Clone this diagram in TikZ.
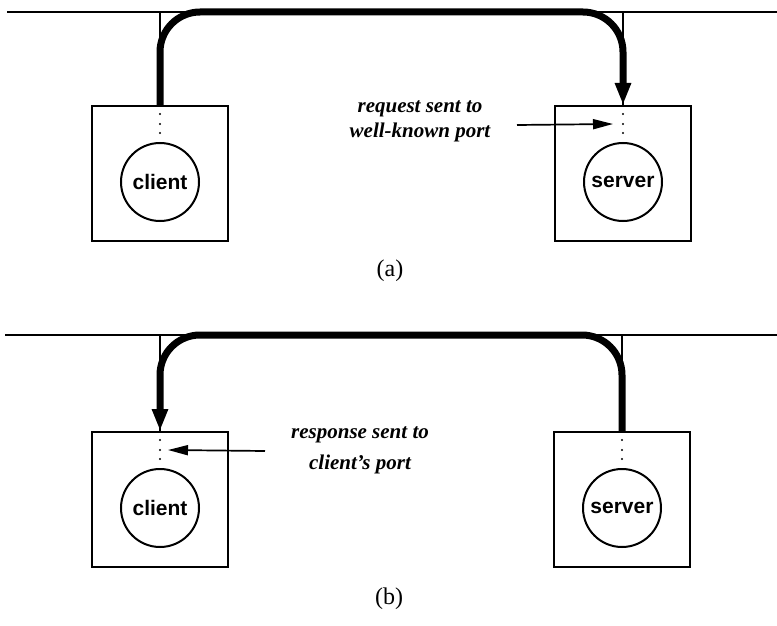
\documentclass[tikz,border=0pt]{standalone}
\usepackage{fontspec}
\setmainfont{Liberation Serif}
\setsansfont{Liberation Sans}
\usetikzlibrary{arrows.meta,calc}
\tikzset{
  bus/.style={line width=1.2pt},
  drop/.style={line width=.7pt},
  hostbox/.style={draw,line width=1pt,minimum width=68pt,minimum height=67.5pt,inner sep=0pt},
  proc/.style={draw,circle,line width=1pt,minimum size=39pt,inner sep=0pt,font=\sffamily\bfseries\fontsize{10.5}{12}\selectfont},
  flow/.style={line width=3.5pt,rounded corners=20pt,-{Triangle[length=11pt,width=7.5pt]}},
  hint/.style={line width=.85pt,-{Triangle[length=10pt,width=5pt]}},
  note/.style={font=\bfseries\itshape\fontsize{10.5}{12.6}\selectfont,align=center},
  subcap/.style={font=\fontsize{12}{14}\selectfont}
}

\begin{document}
\begin{tikzpicture}[x=.5pt,y=-.5pt]
\useasboundingbox (0,0) rectangle (777,626);
% (a) request to the server
\coordinate (busAl) at (7,12);\coordinate (busAr) at (777,12);
\draw[bus] (busAl)--(busAr);
\node[hostbox] (boxCA) at (160,173.5){};
\node[hostbox] (boxSA) at (623,173.5){};
\node[proc] (cliA) at (160,182){client};
\node[proc] (srvA) at (623,182){server};
\draw[drop] (boxCA.north)--(boxCA.north |- busAl);\draw[drop] (boxSA.north)--(boxSA.north |- busAl);
\draw[flow] (boxCA.north)--(boxCA.north |- busAl)--(boxSA.north |- busAl)--(boxSA.north);
\coordinate (portSA) at ($(boxSA.north)+(-10,19)$);\coordinate (fromA) at (517,125);
\draw[hint] (fromA)--(portSA);
\node[note] (reqA) at (420,121){request sent to\\well-known port};
\node[subcap] (capA) at (390,271){(a)};
% (b) response to the client
\coordinate (busBl) at (5,335);\coordinate (busBr) at (777,335);
\draw[bus] (busBl)--(busBr);
\node[hostbox] (boxCB) at (160,499.5){};
\node[hostbox] (boxSB) at (622,499.5){};
\node[proc] (cliB) at (160,508){client};
\node[proc] (srvB) at (622,508){server};
\draw[drop] (boxCB.north)--(boxCB.north |- busBl);\draw[drop] (boxSB.north)--(boxSB.north |- busBl);
\draw[flow] (boxSB.north)--(boxSB.north |- busBl)--(boxCB.north |- busBl)--(boxCB.north);
\coordinate (portCB) at ($(boxCB.north)+(8,19)$);\coordinate (fromB) at (265,451);
\draw[hint] (fromB)--(portCB);
\node[note] (resB) at (360,450){response sent to\\[2.9pt]client's port};
\node[subcap] (capB) at (389,599){(b)};
% port dots
\foreach \bx in {boxCA,boxSA,boxCB,boxSB}{\foreach \dy in {9,19,28}{\fill ($(\bx.north)+(0,\dy)$) circle (.6pt);}}
\end{tikzpicture}
\end{document}
